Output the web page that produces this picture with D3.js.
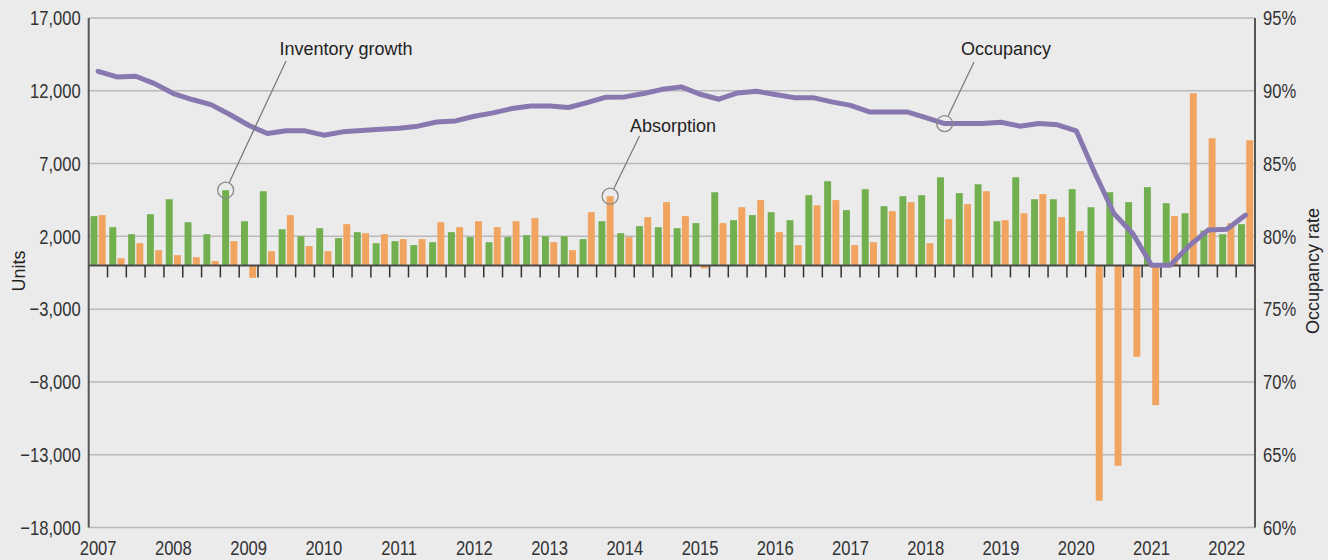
<!DOCTYPE html>
<html>
<head>
<meta charset="utf-8">
<script src="https://cdn.jsdelivr.net/npm/d3@7"></script>
<style>
  html, body { margin: 0; padding: 0; background: #ecebec; }
  svg { display: block; }
  .tick-label { font-family: "Liberation Sans", Arial, sans-serif; font-size: 21px; fill: #333; }
  .annot { font-family: "Liberation Sans", Arial, sans-serif; font-size: 18px; fill: #222; }
  .axis-title { font-family: "Liberation Sans", Arial, sans-serif; font-size: 18px; fill: #222; }
</style>
</head>
<body>
<svg id="chart" width="1328" height="560"></svg>
<script>
// ---- DATA ----
const quarters = [
  "2007Q1","2007Q2","2007Q3","2007Q4","2008Q1","2008Q2","2008Q3","2008Q4",
  "2009Q1","2009Q2","2009Q3","2009Q4","2010Q1","2010Q2","2010Q3","2010Q4",
  "2011Q1","2011Q2","2011Q3","2011Q4","2012Q1","2012Q2","2012Q3","2012Q4",
  "2013Q1","2013Q2","2013Q3","2013Q4","2014Q1","2014Q2","2014Q3","2014Q4",
  "2015Q1","2015Q2","2015Q3","2015Q4","2016Q1","2016Q2","2016Q3","2016Q4",
  "2017Q1","2017Q2","2017Q3","2017Q4","2018Q1","2018Q2","2018Q3","2018Q4",
  "2019Q1","2019Q2","2019Q3","2019Q4","2020Q1","2020Q2","2020Q3","2020Q4",
  "2021Q1","2021Q2","2021Q3","2021Q4","2022Q1","2022Q2"
];
const inventoryGrowth = [
  3390, 2630, 2150, 3520, 4550, 2970, 2150, 5170,
  3040, 5100, 2490, 2010, 2560, 1880, 2290, 1530,
  1670, 1400, 1600, 2290, 1950, 1600, 1950, 2080,
  2010, 2010, 1810, 3040, 2220, 2700, 2630, 2560,
  2910, 5030, 3110, 3460, 3660, 3110, 4830, 5790,
  3800, 5240, 4070, 4760, 4830, 6060, 4970, 5580,
  3040, 6060, 4550, 4550, 5240, 4000, 5030, 4350,
  5380, 4280, 3590, 2400, 2150, 2840
];
const absorption = [
  3460, 500, 1530, 1050, 710, 570, 300, 1670,
  -850, 980, 3460, 1330, 980, 2840, 2220, 2150,
  1810, 1810, 2970, 2630, 3040, 2630, 3040, 3250,
  1600, 1050, 3660, 4760, 1950, 3320, 4350, 3390,
  -200, 2910, 4000, 4490, 2290, 1400, 4140, 4490,
  1400, 1600, 3730, 4350, 1530, 3180, 4210, 5100,
  3110, 3590, 4900, 3320, 2360, -16160, -13760, -6270,
  -9590, 3390, 11830, 8740, 2910, 8600
];
const occupancy = [
  91.34, 90.95, 91.00, 90.49, 89.81, 89.40, 89.05, 88.37,
  87.63, 87.06, 87.25, 87.25, 86.95, 87.18, 87.27, 87.36,
  87.43, 87.57, 87.86, 87.93, 88.25, 88.48, 88.78, 88.96,
  88.96, 88.85, 89.19, 89.56, 89.58, 89.81, 90.10, 90.27,
  89.76, 89.42, 89.85, 89.97, 89.74, 89.53, 89.53, 89.24,
  89.00, 88.55, 88.55, 88.55, 88.16, 87.75, 87.75, 87.75,
  87.84, 87.57, 87.75, 87.66, 87.25, 84.32, 81.57, 80.20,
  78.02, 78.02, 79.35, 80.43, 80.49, 81.46
];
const unitTicks = [-18000, -13000, -8000, -3000, 2000, 7000, 12000, 17000];
const rateTicks = [60, 65, 70, 75, 80, 85, 90, 95];
const yearLabels = ["2007","2008","2009","2010","2011","2012","2013","2014","2015","2016","2017","2018","2019","2020","2021","2022"];
const seriesKeys = ["Inventory growth", "Absorption"];
const annotations = [
  { text: "Inventory growth", series: "inv", quarter: "2008Q4" },
  { text: "Absorption", series: "abs", quarter: "2013Q4" },
  { text: "Occupancy", series: "occ", quarter: "2018Q2" }
];

(function () {
// ---- LAYOUT ----
const W = 1328, H = 560;
const mLeft = 88.7, mRight = 1255, mTop = 18, mBottom = 527.5;
const colors = { inv: "#72b04f", abs: "#f0a45f", occ: "#8878b0", grid: "#b9b8b9", axis: "#555" };
const condense = 0.79;

const svg = d3.select("#chart");
svg.append("rect").attr("width", W).attr("height", H).attr("fill", "#ecebec");

const x = d3.scaleBand().domain(quarters).range([mLeft, mRight]).padding(0);
const xs = d3.scaleBand().domain(seriesKeys).range([0, x.bandwidth()]).paddingInner(0.16).paddingOuter(0.22);
const y = d3.scaleLinear().domain([-18000, 17000]).range([mBottom, mTop]);
const y2 = d3.scaleLinear().domain([60, 95]).range([mBottom, mTop]);

// gridlines
svg.append("g").selectAll("line").data(unitTicks).join("line")
  .attr("x1", mLeft).attr("x2", mRight)
  .attr("y1", d => y(d)).attr("y2", d => y(d))
  .attr("stroke", colors.grid).attr("stroke-width", 1.5);

// bars
const rows = quarters.map((q, i) => ({ q, inv: inventoryGrowth[i], abs: absorption[i], occ: occupancy[i] }));
const barG = svg.append("g");
barG.selectAll("rect.inv").data(rows).join("rect").attr("class", "inv")
  .attr("x", d => x(d.q) + xs("Inventory growth"))
  .attr("width", xs.bandwidth())
  .attr("y", d => y(Math.max(0, d.inv)))
  .attr("height", d => Math.abs(y(d.inv) - y(0)))
  .attr("fill", colors.inv);
barG.selectAll("rect.abs").data(rows).join("rect").attr("class", "abs")
  .attr("x", d => x(d.q) + xs("Absorption"))
  .attr("width", xs.bandwidth())
  .attr("y", d => y(Math.max(0, d.abs)))
  .attr("height", d => Math.abs(y(d.abs) - y(0)))
  .attr("fill", colors.abs);

// zero line and quarter ticks
svg.append("line").attr("x1", mLeft).attr("x2", mRight).attr("y1", y(0)).attr("y2", y(0))
  .attr("stroke", "#4a4a4a").attr("stroke-width", 2);
svg.append("g").selectAll("line").data(quarters.slice(1)).join("line")
  .attr("x1", d => x(d)).attr("x2", d => x(d))
  .attr("y1", y(0)).attr("y2", y(0) + 12)
  .attr("stroke", "#333").attr("stroke-width", 1.5);

// occupancy line
const line = d3.line().x(d => x(d.q) + x.bandwidth() / 2).y(d => y2(d.occ));
svg.append("path").datum(rows).attr("d", line)
  .attr("fill", "none").attr("stroke", colors.occ).attr("stroke-width", 5)
  .attr("stroke-linejoin", "round").attr("stroke-linecap", "round");

// axes lines
svg.append("line").attr("x1", mLeft).attr("x2", mLeft).attr("y1", mTop).attr("y2", mBottom)
  .attr("stroke", colors.axis).attr("stroke-width", 2);
svg.append("line").attr("x1", mRight).attr("x2", mRight).attr("y1", mTop).attr("y2", mBottom)
  .attr("stroke", colors.axis).attr("stroke-width", 2);

// left axis
const gl = svg.append("g").attr("transform", `translate(${mLeft},0)`)
  .call(d3.axisLeft(y).tickValues(unitTicks).tickSize(0).tickPadding(8).tickFormat(d3.format(",")));
gl.select(".domain").remove();
gl.attr("font-family", null).attr("font-size", null);
gl.selectAll("text").attr("class", "tick-label")
  .attr("x", -8 / condense).attr("transform", `scale(${condense},1)`);

// right axis
const gr = svg.append("g").attr("transform", `translate(${mRight},0)`)
  .call(d3.axisRight(y2).tickValues(rateTicks).tickSize(0).tickPadding(8).tickFormat(d => d + "%"));
gr.select(".domain").remove();
gr.attr("font-family", null).attr("font-size", null);
gr.selectAll("text").attr("class", "tick-label")
  .attr("x", 8 / condense).attr("transform", `scale(${condense},1)`);

// bottom year axis
const yearQ = yearLabels.map(yv => yv + "Q1");
const gb = svg.append("g").attr("transform", `translate(0,${mBottom})`)
  .call(d3.axisBottom(x).tickValues(yearQ).tickSize(0).tickPadding(13).tickFormat(d => d.slice(0, 4)));
gb.select(".domain").remove();
gb.attr("font-family", null).attr("font-size", null);
gb.selectAll("text").attr("class", "tick-label").attr("transform", `scale(${condense},1)`);

// axis titles
svg.append("text").attr("class", "axis-title")
  .attr("transform", `translate(25,271) rotate(-90)`).attr("text-anchor", "middle").text("Units");
svg.append("text").attr("class", "axis-title")
  .attr("transform", `translate(1319,271) rotate(-90)`).attr("text-anchor", "middle").text("Occupancy rate");

// annotations
function anchorPoint(a) {
  const r = rows[quarters.indexOf(a.quarter)];
  if (a.series === "inv") return [x(a.quarter) + xs("Inventory growth") + xs.bandwidth() / 2, y(r.inv)];
  if (a.series === "abs") return [x(a.quarter) + xs("Absorption") + xs.bandwidth() / 2, y(r.abs)];
  return [x(a.quarter) + x.bandwidth() / 2, y2(r.occ)];
}
const labelPos = [
  { tx: 346, ty: 55, lx: 286, ly: 61 },
  { tx: 673, ty: 132, lx: 639.5, ly: 136 },
  { tx: 1006, ty: 55, lx: 974, ly: 62 }
];
const rC = 8;
annotations.forEach((a, i) => {
  const [cx, cy] = anchorPoint(a);
  const p = labelPos[i];
  const dx = p.lx - cx, dy = p.ly - cy, len = Math.hypot(dx, dy);
  svg.append("line")
    .attr("x1", p.lx).attr("y1", p.ly)
    .attr("x2", cx + dx / len * rC).attr("y2", cy + dy / len * rC)
    .attr("stroke", "#777").attr("stroke-width", 1.2);
  svg.append("circle").attr("cx", cx).attr("cy", cy).attr("r", rC)
    .attr("fill", "none").attr("stroke", "#8a8a8a").attr("stroke-width", 1.3);
  svg.append("text").attr("class", "annot").attr("x", p.tx).attr("y", p.ty)
    .attr("text-anchor", "middle").text(a.text);
});
})();
</script>
</body>
</html>
